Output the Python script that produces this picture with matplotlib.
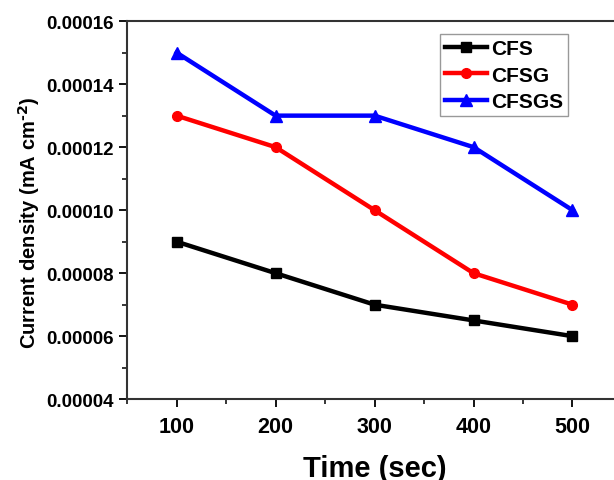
import numpy as np
import matplotlib
matplotlib.use("Agg")
import matplotlib.pyplot as plt
from matplotlib.ticker import MultipleLocator, FuncFormatter

plt.rcParams['font.family'] = ['Liberation Sans', 'DejaVu Sans']
plt.rcParams['font.weight'] = 'bold'

# dados
tempo = [100, 200, 300, 400, 500]
cfs = [9.0e-5, 8.0e-5, 7.0e-5, 6.5e-5, 6.0e-5]
cfsg = [13.0e-5, 12.0e-5, 10.0e-5, 8.0e-5, 7.0e-5]
cfsgs = [15.0e-5, 13.0e-5, 13.0e-5, 12.0e-5, 10.0e-5]

fig = plt.figure(figsize=(6.14, 4.81), dpi=100)
ax = fig.add_axes([0.207, 0.168, 0.806, 0.786])

ax.plot(tempo, cfs, color='black', lw=3.2, marker='s', ms=7, label='CFS')
ax.plot(tempo, cfsg, color='red', lw=3.2, marker='o', ms=7, label='CFSG')
ax.plot(tempo, cfsgs, color='blue', lw=3.2, marker='^', ms=8, label='CFSGS')

ax.set_xlim(50, 550)
ax.set_ylim(0.00004, 0.00016)
ax.set_xticks(tempo)
ax.xaxis.set_minor_locator(MultipleLocator(50))
ax.yaxis.set_major_locator(MultipleLocator(0.00002))
ax.yaxis.set_minor_locator(MultipleLocator(0.00001))
ax.yaxis.set_major_formatter(FuncFormatter(lambda v, p: '%.5f' % v))

ax.tick_params(which='major', direction='out', length=6, width=1.3)
ax.tick_params(axis='y', labelsize=13.5)
ax.tick_params(axis='x', labelsize=15.5, pad=6)
ax.tick_params(which='minor', direction='out', length=3.5, width=1.1)
for lab in ax.get_xticklabels() + ax.get_yticklabels():
    lab.set_fontweight('bold')
for s in ax.spines.values():
    s.set_linewidth(1.5)
    s.set_color('#333333')

ax.set_xlabel('Time (sec)', fontsize=21, fontweight='bold', labelpad=12)
ax.set_ylabel('Current density (mA cm$^{\\mathbf{\\text{-}2}}$)', fontsize=14.5, fontweight='bold')
ax.yaxis.set_label_coords(-0.172, 0.47)

leg = ax.legend(loc='upper left', bbox_to_anchor=(0.632, 0.966), frameon=True, numpoints=1,
                fancybox=False, edgecolor='gray', handlelength=2.0, handletextpad=0.2,
                borderpad=0.25, labelspacing=0.36, borderaxespad=0,
                prop={'weight': 'bold', 'size': 15})
leg.get_frame().set_linewidth(1.0)

plt.savefig('out.png', dpi=100)
